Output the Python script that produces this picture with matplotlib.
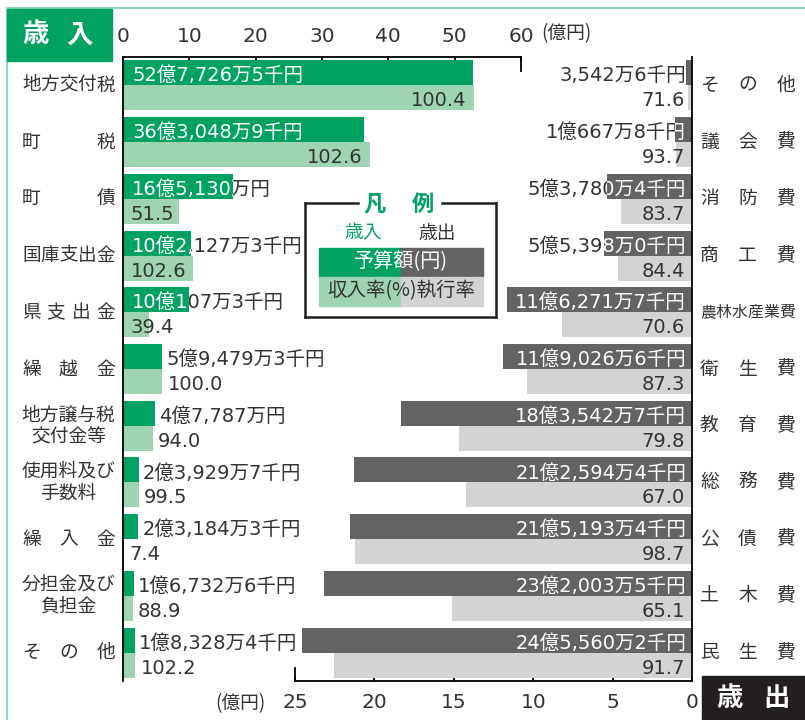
import numpy as np
import matplotlib.pyplot as plt
from matplotlib.patches import Rectangle
from matplotlib.lines import Line2D
from matplotlib.transforms import blended_transform_factory, offset_copy

plt.rcParams['font.family'] = ['Noto Sans CJK JP', 'DejaVu Sans']
NUMF = ['DejaVu Sans', 'Noto Sans CJK JP']   # wide digits like the print

# 歳入 (revenue), amounts in 千円
rev_names = ['地方交付税', '町税', '町債', '国庫支出金', '県支出金', '繰越金',
             '地方譲与税\n交付金等', '使用料及び\n手数料', '繰入金',
             '分担金及び\n負担金', 'その他']
rev_sen = [5277265, 3630489, 1651300, 1021273, 1001073, 594793,
           477870, 239297, 231843, 167326, 183284]
rev_text = ['52億7,726万5千円', '36億3,048万9千円', '16億5,130万円',
            '10億2,127万3千円', '10億107万3千円', '5億9,479万3千円',
            '4億7,787万円', '2億3,929万7千円', '2億3,184万3千円',
            '1億6,732万6千円', '1億8,328万4千円']
rev_rate = [100.4, 102.6, 51.5, 102.6, 39.4, 100.0, 94.0, 99.5, 7.4, 88.9, 102.2]

# 歳出 (expenditure), amounts in 千円
exp_names = ['その他', '議会費', '消防費', '商工費', '農林水産業費', '衛生費',
             '教育費', '総務費', '公債費', '土木費', '民生費']
exp_sen = [35426, 106678, 537804, 553980, 1162717, 1190266,
           1835427, 2125944, 2151934, 2320035, 2455602]
exp_text = ['3,542万6千円', '1億667万8千円', '5億3,780万4千円', '5億5,398万0千円',
            '11億6,271万7千円', '11億9,026万6千円', '18億3,542万7千円',
            '21億2,594万4千円', '21億5,193万4千円', '23億2,003万5千円',
            '24億5,560万2千円']
exp_rate = [71.6, 93.7, 83.7, 84.4, 70.6, 87.3, 79.8, 67.0, 98.7, 65.1, 91.7]

rev_ticks = [0, 10, 20, 30, 40, 50, 60]
exp_ticks = [0, 5, 10, 15, 20, 25]

GREEN = '#00a262'
LGREEN = '#9ed4b1'
DGRAY = '#636366'
LGRAY = '#d2d3d5'
TXT = '#333333'
FRAME = '#8fd6bb'

W, H = 805, 720
def fx(px):
    return px / W
def fy(py):
    return 1 - py / H

fig = plt.figure(figsize=(8.05, 7.2), dpi=100, facecolor='w')
rect = [fx(123), fy(681), (692 - 123) / W, (681 - 57) / H]
ax = fig.add_axes(rect)
ax2 = fig.add_axes(rect)
ax2.patch.set_alpha(0)

rev = np.array(rev_sen) / 1e5   # 億円
exp = np.array(exp_sen) / 1e5
rows = np.arange(len(rev))

for a in (ax, ax2):
    a.set_ylim(len(rows) - 0.5, -0.5)
    a.set_yticks([])
    for s in a.spines.values():
        s.set_visible(False)
        s.set_linewidth(1.3)

ax.set_xlim(0, 569 / 6.633)
ax2.set_xlim(569 / 15.88, 0)

# top axis (revenue)
ax.spines['left'].set_visible(True)
ax.spines['top'].set_visible(True)
ax.spines['top'].set_bounds(0, 60)
ax.xaxis.set_ticks_position('top')
ax.set_xticks(rev_ticks)
ax.tick_params(axis='x', direction='in', length=3, width=1.3, pad=8,
               labelsize=14.5, labelcolor=TXT)
ax.plot([60, 60], [-0.5, -0.25], color='k', lw=1.3, clip_on=False)

# bottom axis (expenditure)
ax2.spines['right'].set_visible(True)
ax2.spines['bottom'].set_visible(True)
ax2.spines['bottom'].set_bounds(0, 25)
ax2.xaxis.set_ticks_position('bottom')
ax2.set_xticks(exp_ticks)
ax2.tick_params(axis='x', direction='in', length=3, width=1.3, pad=8.5,
                labelsize=14.5, labelcolor=TXT)
ax2.plot([25, 25], [10.5, 10.27], color='k', lw=1.3, clip_on=False)
for lab in ax.get_xticklabels() + ax2.get_xticklabels():
    lab.set_fontfamily(NUMF)

fs = 14      # amounts and rates
lfs = 13.5   # category labels
tk = dict(fontsize=fs, family=NUMF, va='baseline')
dy = -8.5    # baseline below bar centre, in pixels


def shift(t, x):
    return offset_copy(t, fig, x=x, y=dy, units='dots')


for i in rows:
    v = rev[i]
    act = v * rev_rate[i] / 100
    dark = ax.barh(i - 0.22, v, height=0.44, color=GREEN, zorder=2)[0]
    ax.barh(i + 0.22, act, height=0.44, color=LGREEN, zorder=2)
    if v >= 10:
        ax.text(0, i - 0.22, rev_text[i], transform=shift(ax.transData, 9),
                ha='left', color=TXT, zorder=1, **tk)
        t = ax.text(0, i - 0.22, rev_text[i], transform=shift(ax.transData, 9),
                    ha='left', color='white', zorder=3, **tk)
        t.set_clip_path(dark)
        t.set_clip_on(True)
    else:
        ax.text(v, i - 0.22, rev_text[i], transform=shift(ax.transData, 4),
                ha='left', color=TXT, zorder=3, **tk)
    rs = f'{rev_rate[i]:.1f}'
    if v >= 30:
        ax.text(act, i + 0.22, rs, transform=shift(ax.transData, -8),
                ha='right', color=TXT, zorder=3, **tk)
    elif v >= 10:
        ax.text(0, i + 0.22, rs, transform=shift(ax.transData, 8),
                ha='left', color=TXT, zorder=3, **tk)
    else:
        ax.text(act, i + 0.22, rs, transform=shift(ax.transData, 5),
                ha='left', color=TXT, zorder=3, **tk)

for i in rows:
    v = exp[i]
    act = v * exp_rate[i] / 100
    dark = ax2.barh(i - 0.22, v, height=0.44, color=DGRAY, zorder=2)[0]
    ax2.barh(i + 0.22, act, height=0.44, color=LGRAY, zorder=2)
    ax2.text(0, i - 0.22, exp_text[i], transform=shift(ax2.transData, -6),
             ha='right', color=TXT, zorder=1, **tk)
    t = ax2.text(0, i - 0.22, exp_text[i], transform=shift(ax2.transData, -6),
                 ha='right', color='white', zorder=3, **tk)
    t.set_clip_path(dark)
    t.set_clip_on(True)
    ax2.text(0, i + 0.22, f'{exp_rate[i]:.1f}', transform=shift(ax2.transData, -7),
             ha='right', color=TXT, zorder=3, **tk)

# category labels
ytr = blended_transform_factory(fig.transFigure, ax.transData)
def row_label(name, i, x0, x1, size):
    if '\n' in name:
        ax.text(fx((x0 + x1) / 2), i, name, transform=ytr, ha='center',
                va='center', ma='center', linespacing=1.05, fontsize=size,
                color=TXT)
        return
    n = len(name)
    size = min(size, (x1 - x0) / n * 72 / 100)
    cw = size * 100 / 72
    for c, xc in zip(name, np.linspace(x0 + cw / 2, x1 - cw / 2, n)):
        ax.text(fx(xc), i, c, transform=ytr, ha='center', va='center',
                fontsize=size, color=TXT)

for i in rows:
    row_label(rev_names[i], i, 22, 115, lfs)
    row_label(exp_names[i], i, 700, 795, lfs)

# axis units
fig.text(fx(541), fy(34), '(億円)', ha='left', va='center', fontsize=13.5, color=TXT)
fig.text(fx(265), fy(704), '(億円)', ha='right', va='center', fontsize=13.5, color=TXT)

# frame and headers
fig.add_artist(Line2D([fx(7), 1], [fy(8), fy(8)], color=FRAME, lw=1.5))
fig.add_artist(Line2D([fx(7), fx(7)], [fy(8), 0], color=FRAME, lw=1.5))
fig.add_artist(Rectangle((fx(7), fy(61)), 105 / W, 52 / H, transform=fig.transFigure,
                         color=GREEN, zorder=5))
for c, xc in zip('歳入', [35.5, 79.5]):
    fig.text(fx(xc), fy(35), c, ha='center', va='center', fontsize=19,
             fontweight='bold', color='white', zorder=6)
fig.add_artist(Rectangle((fx(702), 0), 103 / W, 44 / H, transform=fig.transFigure,
                         color='#231f20', zorder=5))
for c, xc in zip('歳出', [730, 777]):
    fig.text(fx(xc), fy(699), c, ha='center', va='center', fontsize=19,
             fontweight='bold', color='white', zorder=6)

# legend
lw = 1.8
fig.add_artist(Rectangle((fx(305), fy(317)), 191 / W, 114 / H, transform=fig.transFigure,
                         facecolor='white', edgecolor='none', zorder=4))
for xs, ys in [([305, 305], [203, 317]), ([496, 496], [203, 317]),
               ([305, 496], [317, 317]), ([305, 358], [203, 203]),
               ([442, 496], [203, 203])]:
    fig.add_artist(Line2D([fx(x) for x in xs], [fy(y) for y in ys],
                          color='#231f20', lw=lw, zorder=5))
for c, xc in zip('凡例', [375, 422.5]):
    fig.text(fx(xc), fy(204), c, ha='center', va='center', fontsize=16,
             fontweight='bold', color=GREEN, zorder=6)
fig.text(fx(363), fy(233), '歳入', ha='center', va='center', fontsize=13.5,
         color=GREEN, zorder=6)
fig.text(fx(437), fy(233), '歳出', ha='center', va='center', fontsize=13.5,
         color=TXT, zorder=6)
for (x0, y0, col) in [(319, 277, GREEN), (401, 277, DGRAY),
                      (319, 306, LGREEN), (401, 306, LGRAY)]:
    fig.add_artist(Rectangle((fx(x0), fy(y0)), 82 / W, 29 / H,
                             transform=fig.transFigure, color=col, zorder=5))
fig.text(fx(401), fy(262), '予算額(円)', ha='center', va='center', fontsize=14.5,
         color='white', zorder=6)
fig.text(fx(401), fy(291), '収入率(%)執行率', ha='center', va='center', fontsize=14,
         color=TXT, zorder=6)

plt.savefig('out.png', dpi=100)
